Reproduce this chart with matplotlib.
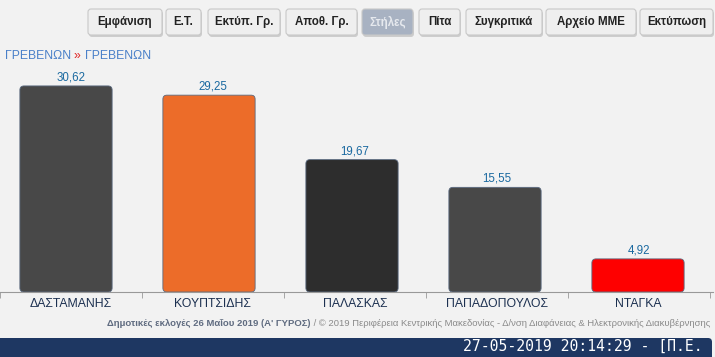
import matplotlib
matplotlib.use("Agg")
import matplotlib.pyplot as plt
from matplotlib.patches import FancyBboxPatch, Rectangle
from matplotlib.transforms import IdentityTransform

candidates = ["ΔΑΣΤΑΜΑΝΗΣ", "ΚΟΥΠΤΣΙΔΗΣ", "ΠΑΛΑΣΚΑΣ", "ΠΑΠΑΔΟΠΟΥΛΟΣ", "ΝΤΑΓΚΑ"]
values = [30.62, 29.25, 19.67, 15.55, 4.92]
bar_colors = ["#484848", "#ec6c29", "#2d2d2d", "#484848", "#fe0000"]
buttons = ["Εμφάνιση", "Ε.Τ.", "Εκτύπ. Γρ.", "Αποθ. Γρ.", "Στήλες", "Πίτα", "Συγκριτικά", "Αρχείο ΜΜΕ", "Εκτύπωση"]
button_px = [(88, 162), (166, 201), (208, 280), (286, 357), (362, 413), (419, 460), (466, 542), (546, 636), (640, 713)]
active_button = "Στήλες"

W, H = 715, 357
BG = "#f2f2f2"
fig = plt.figure(figsize=(W / 100, H / 100), dpi=100, facecolor=BG)
narrow = ["Liberation Sans Narrow", "Liberation Sans", "DejaVu Sans"]
sans = ["Liberation Sans", "DejaVu Sans"]

# overlay axes in pixel coords
ov = fig.add_axes([0, 0, 1, 1], zorder=5)
ov.set_xlim(0, W)
ov.set_ylim(H, 0)
ov.axis("off")
ov.patch.set_alpha(0)

# buttons
for label, (x0, x1) in zip(buttons, button_px):
    active = label == active_button
    fc = "#a8b2c2" if active else "#efefef"
    tc = "#e6e9ee" if active else "#222222"
    shadow = FancyBboxPatch((x0 + 1, 11), x1 - x0, 26, boxstyle="round,pad=0,rounding_size=3",
                            fc="#b5b5b5", ec="none", alpha=0.6)
    ov.add_patch(shadow)
    box = FancyBboxPatch((x0, 9), x1 - x0, 26, boxstyle="round,pad=0,rounding_size=3",
                         fc=fc, ec="#c8c8c8", lw=0.8)
    ov.add_patch(box)
    ov.text((x0 + x1) / 2, 22, label, ha="center", va="center", fontsize=8.3,
            color=tc, family=narrow, fontweight="bold")

# breadcrumb
t1 = ov.text(5, 56, "ΓΡΕΒΕΝΩΝ ", ha="left", va="center", fontsize=8.8, color="#4a80c9", family=sans)
fig.canvas.draw()
x = t1.get_window_extent().x1
t2 = ov.text(x, 56, "» ", ha="left", va="center", fontsize=8.8, color="#e02020", family=sans)
fig.canvas.draw()
x = t2.get_window_extent().x1
ov.text(x, 56, "ΓΡΕΒΕΝΩΝ", ha="left", va="center", fontsize=8.8, color="#4a80c9", family=sans)

# chart axes
top_px, base_px = 70, 292
ax = fig.add_axes([0, (H - base_px) / H, 713 / W, (base_px - top_px) / H], facecolor=BG)
ax.set_xlim(-66 / 143, (713 - 66) / 143)
ax.set_ylim(0, (base_px - top_px) / 6.73)
xs = list(range(len(values)))
bars = ax.bar(xs, values, width=0.645, color=bar_colors, edgecolor="#5a6a80", linewidth=0.6, zorder=3)
fig.canvas.draw()
for b, c in zip(bars, bar_colors):
    ext = b.get_window_extent()
    rp = FancyBboxPatch((ext.x0, ext.y0), ext.width, ext.height,
                        boxstyle="round,pad=0,rounding_size=4", fc=c, ec="#5a6a80", lw=0.6,
                        transform=IdentityTransform(), zorder=3)
    ax.add_patch(rp)
    b.set_visible(False)
for b, v in zip(bars, values):
    ax.text(b.get_x() + b.get_width() / 2, v + 0.35, f"{v:.2f}".replace(".", ","),
            ha="center", va="bottom", fontsize=8.3, color="#1a69a0", family=sans)
for s in ["top", "right", "left"]:
    ax.spines[s].set_visible(False)
ax.spines["bottom"].set_color("#999999")
ax.spines["bottom"].set_linewidth(0.8)
ax.spines["bottom"].set_zorder(4)
ax.set_yticks([])
ax.set_xticks(xs)
ax.set_xticklabels(candidates, fontsize=8.8, color="#1c3050", family=sans)
ax.tick_params(axis="x", length=0, pad=4)
ax.set_xticks([i + 0.5 for i in range(-1, len(values))], minor=True)
ax.tick_params(axis="x", which="minor", length=4, color="#999999")

# footer
f1 = "Δημοτικές εκλογές 26 Μαΐου 2019 (Α' ΓΥΡΟΣ)"
f2 = " / © 2019 Περιφέρεια Κεντρικής Μακεδονίας - Δ/νση Διαφάνειας & Ηλεκτρονικής Διακυβέρνησης"
t_b = ov.text(710, 324, f2, ha="right", va="center", fontsize=6.8, color="#8a8a8a", family=narrow)
fig.canvas.draw()
xb = t_b.get_window_extent().x0
ov.text(xb, 324, f1, ha="right", va="center", fontsize=6.8, color="#5f6b80", family=narrow, fontweight="bold")

# bottom band
ov.add_patch(FancyBboxPatch((-10, 338), W + 7, 30, boxstyle="round,pad=0,rounding_size=4",
                            fc="#1e3762", ec="none"))
ov.text(703, 346.5, "27-05-2019 20:14:29 - [Π.Ε.", ha="right", va="center", fontsize=10.6,
        color="#ffffff", family=["DejaVu Sans Mono", "Liberation Mono"])

fig.savefig("out.png", dpi=100, facecolor=BG)
